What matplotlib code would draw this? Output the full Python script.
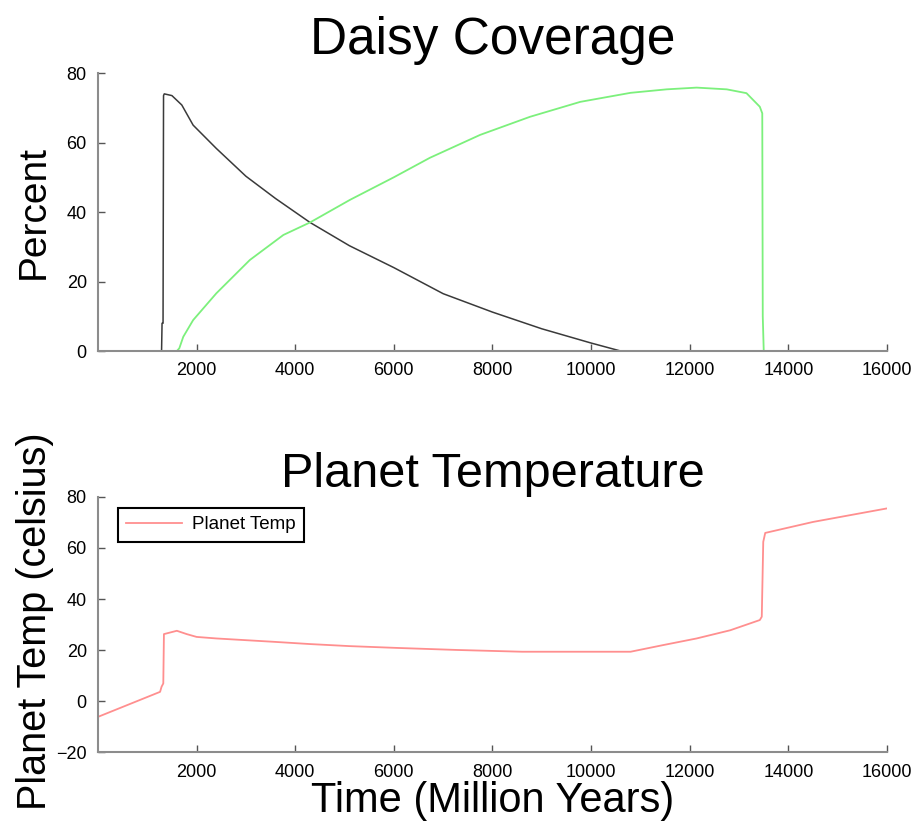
import matplotlib.pyplot as plt

plt.rcParams['font.family'] = ['Liberation Sans', 'DejaVu Sans']

# daisy coverage (percent)
black_t = [0, 1290, 1300, 1320, 1330, 1345, 1500, 1700, 1930, 2400, 3000, 3600,
           4300, 5100, 6000, 7000, 8000, 9000, 10000, 10600, 16000]
black_pct = [0, 0, 8, 8, 73.5, 74, 73.5, 70.8, 65, 58.3, 50.3, 43.9,
             37, 30.3, 24, 16.5, 11.2, 6.4, 2.3, 0, 0]

white_t = [0, 1600, 1650, 1730, 1930, 2400, 3080, 3760, 4300, 5110, 6000, 6730,
           7750, 8760, 9780, 10800, 11530, 12140, 12750, 13150, 13420, 13470,
           13480, 13500, 16000]
white_pct = [0, 0, 0.8, 4.1, 8.9, 16.6, 26.2, 33.4, 37, 43.5, 50, 55.6,
             62.2, 67.4, 71.7, 74.3, 75.3, 75.8, 75.3, 74.2, 70.3, 68.4,
             10, 0, 0]

# planet temperature (celsius)
temp_t = [0, 1260, 1290, 1325, 1338, 1600, 1800, 2000, 2400, 3550, 4300, 5100,
          6050, 7270, 8600, 10800, 11460, 12140, 12820, 13420, 13460, 13490,
          13530, 14500, 16000]
temp_c = [-6.1, 3.7, 5.7, 7, 26.3, 27.6, 26.3, 25.2, 24.6, 23.3, 22.4, 21.6,
          20.9, 20.1, 19.4, 19.4, 22, 24.6, 27.8, 31.8, 33.1, 62.4,
          65.9, 70.2, 75.5]

x_ticks = [2000, 4000, 6000, 8000, 10000, 12000, 14000, 16000]


def style_axis(ax, yticks):
    for side in ("top", "right"):
        ax.spines[side].set_visible(False)
    for side in ("left", "bottom"):
        ax.spines[side].set_color("#8c8c8c")
        ax.spines[side].set_linewidth(1.5)
    ax.set_xlim(0, 16000)
    ax.set_xticks(x_ticks)
    ax.set_yticks(yticks)
    ax.set_ylim(yticks[0], yticks[-1])
    ax.tick_params(direction="in", length=5, width=1, color="#555555",
                   labelsize=13, pad=8)


fig = plt.figure(figsize=(9.24, 8.25), dpi=100)
ax1 = fig.add_axes([0.106, 0.5745, 0.854, 0.337])
ax2 = fig.add_axes([0.106, 0.088, 0.854, 0.3097])

# top: daisy coverage
ax1.plot(black_t, black_pct, color="#3a3a3a", lw=1.1)
ax1.plot(white_t, white_pct, color="#7cf07c", lw=1.3)
style_axis(ax1, [0, 20, 40, 60, 80])
ax1.set_title("Daisy Coverage", fontsize=37, pad=14)
ax1.set_ylabel("Percent", fontsize=28)
ax1.yaxis.set_label_coords(-0.058, 0.5)

# bottom: planet temperature
ax2.plot(temp_t, temp_c, color="#ff8f8f", lw=1.3, label="Planet Temp")
style_axis(ax2, [-20, 0, 20, 40, 60, 80])
ax2.set_title("Planet Temperature", fontsize=35, pad=7)
ax2.set_ylabel("Planet Temp (celsius)", fontsize=28.5)
ax2.yaxis.set_label_coords(-0.056, 0.515)
ax2.set_xlabel("Time (Million Years)", fontsize=30)
ax2.xaxis.label.set_va("center")
ax2.xaxis.set_label_coords(0.5, -0.19)

leg = ax2.legend(loc="upper left", bbox_to_anchor=(0.013, 0.995), fontsize=13.5,
                 fancybox=False, framealpha=1, handlelength=3.0,
                 borderpad=0.45, handletextpad=0.5)
leg.get_frame().set_edgecolor("black")
leg.get_frame().set_linewidth(1.5)

fig.savefig("out.png", dpi=100)
